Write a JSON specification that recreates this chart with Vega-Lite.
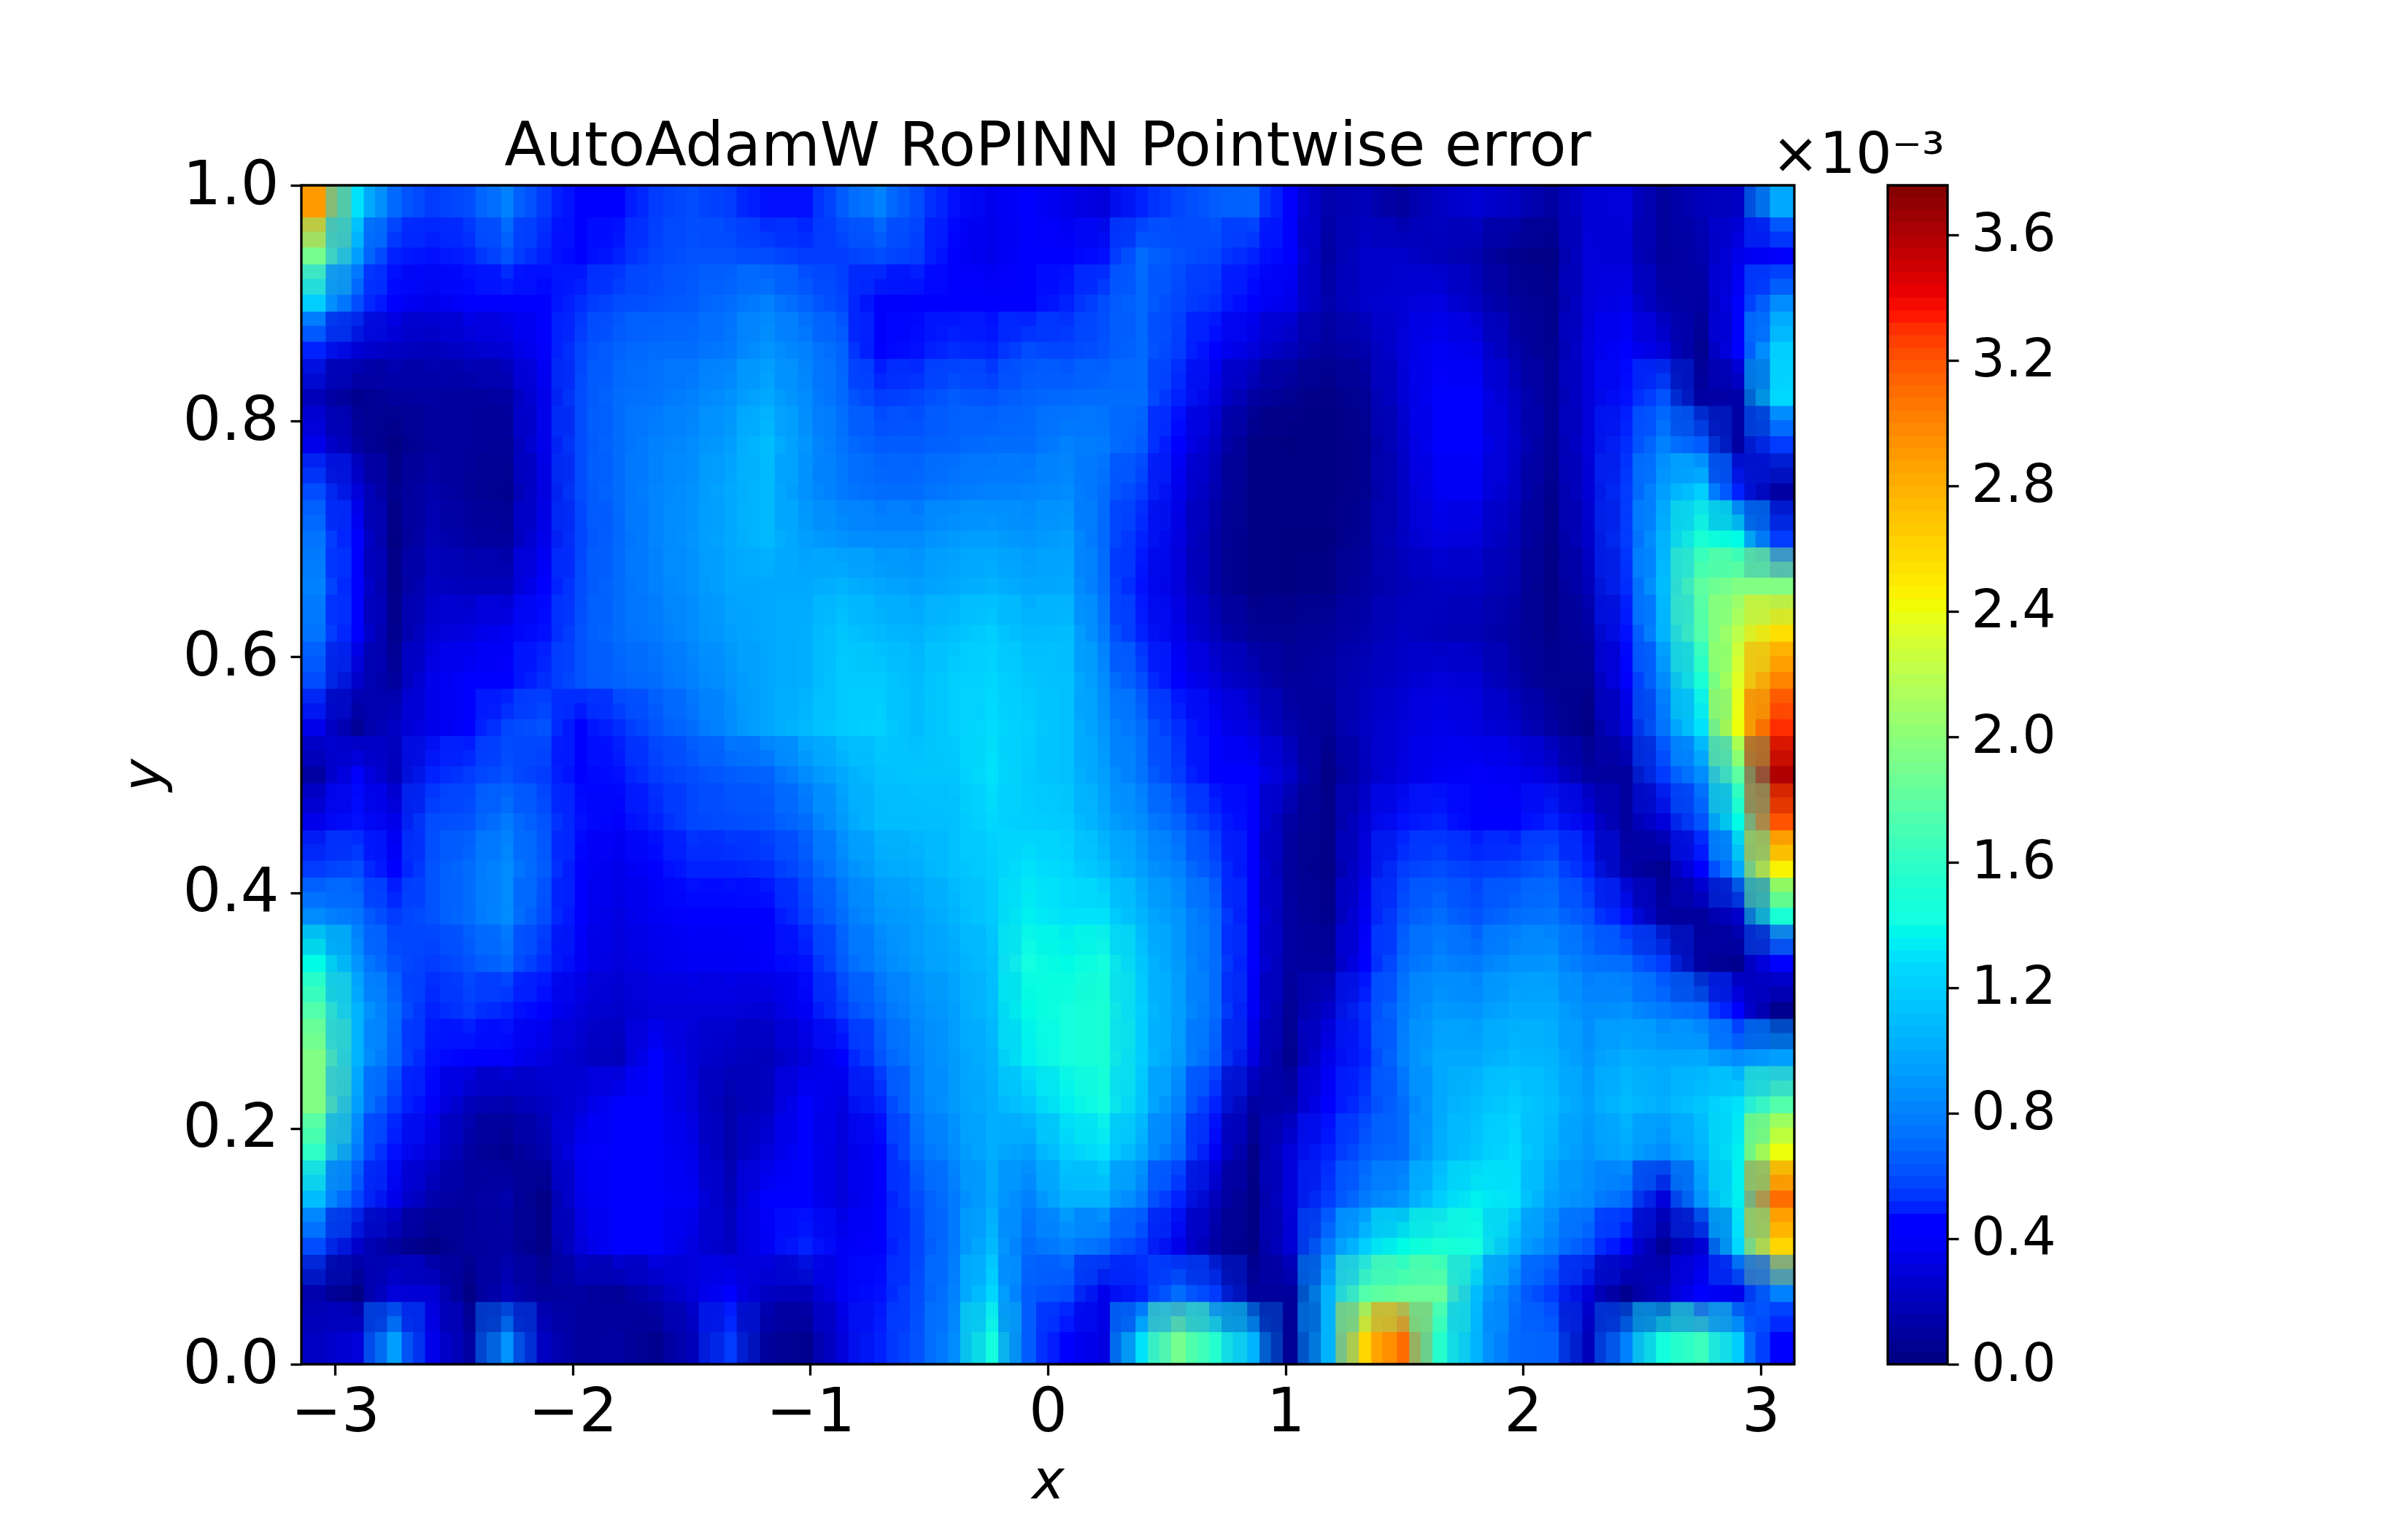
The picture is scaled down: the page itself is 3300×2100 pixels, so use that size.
{"$schema":"https://vega.github.io/schema/vega-lite/v6.json","background":"white","padding":{"left":160,"top":161,"right":20,"bottom":20},"spacing":-33,"config":{"font":"DejaVu Sans","view":{"stroke":null},"axis":{"grid":false,"domain":false,"tickColor":"black","tickWidth":3.3,"tickSize":15,"labelColor":"black","titleColor":"black","labelFont":"DejaVu Sans","titleFont":"DejaVu Sans"}},"datasets":{"grid":[
{"x":-3.06,"y":0.98,"e":2.9},{"x":-2.91,"y":0.98,"e":1.3},{"x":-2.75,"y":0.98,"e":0.7},{"x":-2.59,"y":0.98,"e":0.55},{"x":-2.43,"y":0.98,"e":0.6},{"x":-2.28,"y":0.98,"e":0.8},{"x":-2.12,"y":0.98,"e":0.55},{"x":-1.96,"y":0.98,"e":0.42},{"x":-1.81,"y":0.98,"e":0.42},{"x":-1.65,"y":0.98,"e":0.55},{"x":-1.49,"y":0.98,"e":0.6},{"x":-1.34,"y":0.98,"e":0.55},{"x":-1.18,"y":0.98,"e":0.48},{"x":-1.02,"y":0.98,"e":0.48},{"x":-0.86,"y":0.98,"e":0.65},{"x":-0.71,"y":0.98,"e":0.8},{"x":-0.55,"y":0.98,"e":0.6},{"x":-0.39,"y":0.98,"e":0.48},{"x":-0.24,"y":0.98,"e":0.36},{"x":-0.08,"y":0.98,"e":0.42},{"x":0.08,"y":0.98,"e":0.35},{"x":0.24,"y":0.98,"e":0.3},{"x":0.39,"y":0.98,"e":0.5},{"x":0.55,"y":0.98,"e":0.58},{"x":0.71,"y":0.98,"e":0.65},{"x":0.86,"y":0.98,"e":0.68},{"x":1.02,"y":0.98,"e":0.4},{"x":1.18,"y":0.98,"e":0.15},{"x":1.34,"y":0.98,"e":0.2},{"x":1.49,"y":0.98,"e":0.1},{"x":1.65,"y":0.98,"e":0.22},{"x":1.81,"y":0.98,"e":0.28},{"x":1.96,"y":0.98,"e":0.22},{"x":2.12,"y":0.98,"e":0.12},{"x":2.28,"y":0.98,"e":0.28},{"x":2.43,"y":0.98,"e":0.3},{"x":2.59,"y":0.98,"e":0.1},{"x":2.75,"y":0.98,"e":0.2},{"x":2.91,"y":0.98,"e":0.22},{"x":3.06,"y":0.98,"e":1.0},
{"x":-3.06,"y":0.94,"e":1.9},{"x":-2.91,"y":0.94,"e":0.95},{"x":-2.75,"y":0.94,"e":0.5},{"x":-2.59,"y":0.94,"e":0.48},{"x":-2.43,"y":0.94,"e":0.5},{"x":-2.28,"y":0.94,"e":0.62},{"x":-2.12,"y":0.94,"e":0.5},{"x":-1.96,"y":0.94,"e":0.42},{"x":-1.81,"y":0.94,"e":0.5},{"x":-1.65,"y":0.94,"e":0.58},{"x":-1.49,"y":0.94,"e":0.62},{"x":-1.34,"y":0.94,"e":0.62},{"x":-1.18,"y":0.94,"e":0.6},{"x":-1.02,"y":0.94,"e":0.55},{"x":-0.86,"y":0.94,"e":0.55},{"x":-0.71,"y":0.94,"e":0.6},{"x":-0.55,"y":0.94,"e":0.55},{"x":-0.39,"y":0.94,"e":0.45},{"x":-0.24,"y":0.94,"e":0.35},{"x":-0.08,"y":0.94,"e":0.42},{"x":0.08,"y":0.94,"e":0.42},{"x":0.24,"y":0.94,"e":0.48},{"x":0.39,"y":0.94,"e":0.72},{"x":0.55,"y":0.94,"e":0.62},{"x":0.71,"y":0.94,"e":0.58},{"x":0.86,"y":0.94,"e":0.5},{"x":1.02,"y":0.94,"e":0.42},{"x":1.18,"y":0.94,"e":0.12},{"x":1.34,"y":0.94,"e":0.25},{"x":1.49,"y":0.94,"e":0.25},{"x":1.65,"y":0.94,"e":0.2},{"x":1.81,"y":0.94,"e":0.15},{"x":1.96,"y":0.94,"e":0.05},{"x":2.12,"y":0.94,"e":0.03},{"x":2.28,"y":0.94,"e":0.3},{"x":2.43,"y":0.94,"e":0.28},{"x":2.59,"y":0.94,"e":0.1},{"x":2.75,"y":0.94,"e":0.15},{"x":2.91,"y":0.94,"e":0.35},{"x":3.06,"y":0.94,"e":0.4},
{"x":-3.06,"y":0.9,"e":1.2},{"x":-2.91,"y":0.9,"e":0.6},{"x":-2.75,"y":0.9,"e":0.42},{"x":-2.59,"y":0.9,"e":0.35},{"x":-2.43,"y":0.9,"e":0.42},{"x":-2.28,"y":0.9,"e":0.42},{"x":-2.12,"y":0.9,"e":0.45},{"x":-1.96,"y":0.9,"e":0.52},{"x":-1.81,"y":0.9,"e":0.6},{"x":-1.65,"y":0.9,"e":0.62},{"x":-1.49,"y":0.9,"e":0.65},{"x":-1.34,"y":0.9,"e":0.72},{"x":-1.18,"y":0.9,"e":0.8},{"x":-1.02,"y":0.9,"e":0.68},{"x":-0.86,"y":0.9,"e":0.58},{"x":-0.71,"y":0.9,"e":0.4},{"x":-0.55,"y":0.9,"e":0.42},{"x":-0.39,"y":0.9,"e":0.45},{"x":-0.24,"y":0.9,"e":0.42},{"x":-0.08,"y":0.9,"e":0.45},{"x":0.08,"y":0.9,"e":0.5},{"x":0.24,"y":0.9,"e":0.6},{"x":0.39,"y":0.9,"e":0.7},{"x":0.55,"y":0.9,"e":0.58},{"x":0.71,"y":0.9,"e":0.52},{"x":0.86,"y":0.9,"e":0.45},{"x":1.02,"y":0.9,"e":0.35},{"x":1.18,"y":0.9,"e":0.15},{"x":1.34,"y":0.9,"e":0.25},{"x":1.49,"y":0.9,"e":0.28},{"x":1.65,"y":0.9,"e":0.32},{"x":1.81,"y":0.9,"e":0.22},{"x":1.96,"y":0.9,"e":0.1},{"x":2.12,"y":0.9,"e":0.05},{"x":2.28,"y":0.9,"e":0.3},{"x":2.43,"y":0.9,"e":0.35},{"x":2.59,"y":0.9,"e":0.15},{"x":2.75,"y":0.9,"e":0.12},{"x":2.91,"y":0.9,"e":0.4},{"x":3.06,"y":0.9,"e":0.85},
{"x":-3.06,"y":0.86,"e":0.5},{"x":-2.91,"y":0.86,"e":0.28},{"x":-2.75,"y":0.86,"e":0.22},{"x":-2.59,"y":0.86,"e":0.2},{"x":-2.43,"y":0.86,"e":0.25},{"x":-2.28,"y":0.86,"e":0.28},{"x":-2.12,"y":0.86,"e":0.4},{"x":-1.96,"y":0.86,"e":0.58},{"x":-1.81,"y":0.86,"e":0.68},{"x":-1.65,"y":0.86,"e":0.72},{"x":-1.49,"y":0.86,"e":0.72},{"x":-1.34,"y":0.86,"e":0.78},{"x":-1.18,"y":0.86,"e":0.9},{"x":-1.02,"y":0.86,"e":0.8},{"x":-0.86,"y":0.86,"e":0.68},{"x":-0.71,"y":0.86,"e":0.45},{"x":-0.55,"y":0.86,"e":0.48},{"x":-0.39,"y":0.86,"e":0.52},{"x":-0.24,"y":0.86,"e":0.5},{"x":-0.08,"y":0.86,"e":0.6},{"x":0.08,"y":0.86,"e":0.58},{"x":0.24,"y":0.86,"e":0.62},{"x":0.39,"y":0.86,"e":0.7},{"x":0.55,"y":0.86,"e":0.55},{"x":0.71,"y":0.86,"e":0.45},{"x":0.86,"y":0.86,"e":0.3},{"x":1.02,"y":0.86,"e":0.2},{"x":1.18,"y":0.86,"e":0.1},{"x":1.34,"y":0.86,"e":0.15},{"x":1.49,"y":0.86,"e":0.3},{"x":1.65,"y":0.86,"e":0.38},{"x":1.81,"y":0.86,"e":0.35},{"x":1.96,"y":0.86,"e":0.15},{"x":2.12,"y":0.86,"e":0.06},{"x":2.28,"y":0.86,"e":0.32},{"x":2.43,"y":0.86,"e":0.45},{"x":2.59,"y":0.86,"e":0.3},{"x":2.75,"y":0.86,"e":0.06},{"x":2.91,"y":0.86,"e":0.42},{"x":3.06,"y":0.86,"e":1.2},
{"x":-3.06,"y":0.82,"e":0.2},{"x":-2.91,"y":0.82,"e":0.05},{"x":-2.75,"y":0.82,"e":0.1},{"x":-2.59,"y":0.82,"e":0.12},{"x":-2.43,"y":0.82,"e":0.1},{"x":-2.28,"y":0.82,"e":0.12},{"x":-2.12,"y":0.82,"e":0.35},{"x":-1.96,"y":0.82,"e":0.6},{"x":-1.81,"y":0.82,"e":0.72},{"x":-1.65,"y":0.82,"e":0.75},{"x":-1.49,"y":0.82,"e":0.8},{"x":-1.34,"y":0.82,"e":0.88},{"x":-1.18,"y":0.82,"e":1.0},{"x":-1.02,"y":0.82,"e":0.85},{"x":-0.86,"y":0.82,"e":0.7},{"x":-0.71,"y":0.82,"e":0.55},{"x":-0.55,"y":0.82,"e":0.58},{"x":-0.39,"y":0.82,"e":0.65},{"x":-0.24,"y":0.82,"e":0.62},{"x":-0.08,"y":0.82,"e":0.68},{"x":0.08,"y":0.82,"e":0.7},{"x":0.24,"y":0.82,"e":0.72},{"x":0.39,"y":0.82,"e":0.72},{"x":0.55,"y":0.82,"e":0.5},{"x":0.71,"y":0.82,"e":0.32},{"x":0.86,"y":0.82,"e":0.12},{"x":1.02,"y":0.82,"e":0.06},{"x":1.18,"y":0.82,"e":0.02},{"x":1.34,"y":0.82,"e":0.08},{"x":1.49,"y":0.82,"e":0.28},{"x":1.65,"y":0.82,"e":0.42},{"x":1.81,"y":0.82,"e":0.42},{"x":1.96,"y":0.82,"e":0.22},{"x":2.12,"y":0.82,"e":0.08},{"x":2.28,"y":0.82,"e":0.3},{"x":2.43,"y":0.82,"e":0.48},{"x":2.59,"y":0.82,"e":0.62},{"x":2.75,"y":0.82,"e":0.12},{"x":2.91,"y":0.82,"e":0.14},{"x":3.06,"y":0.82,"e":1.25},
{"x":-3.06,"y":0.78,"e":0.35},{"x":-2.91,"y":0.78,"e":0.12},{"x":-2.75,"y":0.78,"e":0.02},{"x":-2.59,"y":0.78,"e":0.1},{"x":-2.43,"y":0.78,"e":0.1},{"x":-2.28,"y":0.78,"e":0.08},{"x":-2.12,"y":0.78,"e":0.35},{"x":-1.96,"y":0.78,"e":0.6},{"x":-1.81,"y":0.78,"e":0.72},{"x":-1.65,"y":0.78,"e":0.8},{"x":-1.49,"y":0.78,"e":0.85},{"x":-1.34,"y":0.78,"e":0.95},{"x":-1.18,"y":0.78,"e":1.1},{"x":-1.02,"y":0.78,"e":0.9},{"x":-0.86,"y":0.78,"e":0.75},{"x":-0.71,"y":0.78,"e":0.65},{"x":-0.55,"y":0.78,"e":0.65},{"x":-0.39,"y":0.78,"e":0.68},{"x":-0.24,"y":0.78,"e":0.72},{"x":-0.08,"y":0.78,"e":0.72},{"x":0.08,"y":0.78,"e":0.8},{"x":0.24,"y":0.78,"e":0.78},{"x":0.39,"y":0.78,"e":0.65},{"x":0.55,"y":0.78,"e":0.42},{"x":0.71,"y":0.78,"e":0.22},{"x":0.86,"y":0.78,"e":0.02},{"x":1.02,"y":0.78,"e":0.01},{"x":1.18,"y":0.78,"e":0.02},{"x":1.34,"y":0.78,"e":0.05},{"x":1.49,"y":0.78,"e":0.25},{"x":1.65,"y":0.78,"e":0.42},{"x":1.81,"y":0.78,"e":0.42},{"x":1.96,"y":0.78,"e":0.25},{"x":2.12,"y":0.78,"e":0.08},{"x":2.28,"y":0.78,"e":0.3},{"x":2.43,"y":0.78,"e":0.52},{"x":2.59,"y":0.78,"e":0.8},{"x":2.75,"y":0.78,"e":0.65},{"x":2.91,"y":0.78,"e":0.12},{"x":3.06,"y":0.78,"e":0.55},
{"x":-3.06,"y":0.74,"e":0.6},{"x":-2.91,"y":0.74,"e":0.3},{"x":-2.75,"y":0.74,"e":0.05},{"x":-2.59,"y":0.74,"e":0.15},{"x":-2.43,"y":0.74,"e":0.08},{"x":-2.28,"y":0.74,"e":0.05},{"x":-2.12,"y":0.74,"e":0.32},{"x":-1.96,"y":0.74,"e":0.6},{"x":-1.81,"y":0.74,"e":0.72},{"x":-1.65,"y":0.74,"e":0.82},{"x":-1.49,"y":0.74,"e":0.88},{"x":-1.34,"y":0.74,"e":1.0},{"x":-1.18,"y":0.74,"e":1.08},{"x":-1.02,"y":0.74,"e":0.88},{"x":-0.86,"y":0.74,"e":0.78},{"x":-0.71,"y":0.74,"e":0.72},{"x":-0.55,"y":0.74,"e":0.72},{"x":-0.39,"y":0.74,"e":0.78},{"x":-0.24,"y":0.74,"e":0.8},{"x":-0.08,"y":0.74,"e":0.82},{"x":0.08,"y":0.74,"e":0.85},{"x":0.24,"y":0.74,"e":0.72},{"x":0.39,"y":0.74,"e":0.55},{"x":0.55,"y":0.74,"e":0.35},{"x":0.71,"y":0.74,"e":0.16},{"x":0.86,"y":0.74,"e":0.02},{"x":1.02,"y":0.74,"e":0.02},{"x":1.18,"y":0.74,"e":0.02},{"x":1.34,"y":0.74,"e":0.06},{"x":1.49,"y":0.74,"e":0.22},{"x":1.65,"y":0.74,"e":0.38},{"x":1.81,"y":0.74,"e":0.38},{"x":1.96,"y":0.74,"e":0.22},{"x":2.12,"y":0.74,"e":0.05},{"x":2.28,"y":0.74,"e":0.28},{"x":2.43,"y":0.74,"e":0.55},{"x":2.59,"y":0.74,"e":0.95},{"x":2.75,"y":0.74,"e":1.2},{"x":2.91,"y":0.74,"e":0.5},{"x":3.06,"y":0.74,"e":0.12},
{"x":-3.06,"y":0.7,"e":0.75},{"x":-2.91,"y":0.7,"e":0.42},{"x":-2.75,"y":0.7,"e":0.02},{"x":-2.59,"y":0.7,"e":0.18},{"x":-2.43,"y":0.7,"e":0.12},{"x":-2.28,"y":0.7,"e":0.1},{"x":-2.12,"y":0.7,"e":0.35},{"x":-1.96,"y":0.7,"e":0.58},{"x":-1.81,"y":0.7,"e":0.7},{"x":-1.65,"y":0.7,"e":0.82},{"x":-1.49,"y":0.7,"e":0.9},{"x":-1.34,"y":0.7,"e":1.0},{"x":-1.18,"y":0.7,"e":1.08},{"x":-1.02,"y":0.7,"e":0.95},{"x":-0.86,"y":0.7,"e":0.88},{"x":-0.71,"y":0.7,"e":0.85},{"x":-0.55,"y":0.7,"e":0.85},{"x":-0.39,"y":0.7,"e":0.92},{"x":-0.24,"y":0.7,"e":0.95},{"x":-0.08,"y":0.7,"e":0.9},{"x":0.08,"y":0.7,"e":0.95},{"x":0.24,"y":0.7,"e":0.7},{"x":0.39,"y":0.7,"e":0.5},{"x":0.55,"y":0.7,"e":0.32},{"x":0.71,"y":0.7,"e":0.12},{"x":0.86,"y":0.7,"e":0.02},{"x":1.02,"y":0.7,"e":0.01},{"x":1.18,"y":0.7,"e":0.01},{"x":1.34,"y":0.7,"e":0.08},{"x":1.49,"y":0.7,"e":0.22},{"x":1.65,"y":0.7,"e":0.32},{"x":1.81,"y":0.7,"e":0.3},{"x":1.96,"y":0.7,"e":0.18},{"x":2.12,"y":0.7,"e":0.04},{"x":2.28,"y":0.7,"e":0.25},{"x":2.43,"y":0.7,"e":0.55},{"x":2.59,"y":0.7,"e":1.05},{"x":2.75,"y":0.7,"e":1.5},{"x":2.91,"y":0.7,"e":1.4},{"x":3.06,"y":0.7,"e":0.55},
{"x":-3.06,"y":0.66,"e":0.8},{"x":-2.91,"y":0.66,"e":0.45},{"x":-2.75,"y":0.66,"e":0.04},{"x":-2.59,"y":0.66,"e":0.22},{"x":-2.43,"y":0.66,"e":0.2},{"x":-2.28,"y":0.66,"e":0.2},{"x":-2.12,"y":0.66,"e":0.42},{"x":-1.96,"y":0.66,"e":0.6},{"x":-1.81,"y":0.66,"e":0.72},{"x":-1.65,"y":0.66,"e":0.8},{"x":-1.49,"y":0.66,"e":0.88},{"x":-1.34,"y":0.66,"e":0.98},{"x":-1.18,"y":0.66,"e":1.0},{"x":-1.02,"y":0.66,"e":1.0},{"x":-0.86,"y":0.66,"e":1.05},{"x":-0.71,"y":0.66,"e":0.98},{"x":-0.55,"y":0.66,"e":0.95},{"x":-0.39,"y":0.66,"e":1.0},{"x":-0.24,"y":0.66,"e":1.05},{"x":-0.08,"y":0.66,"e":0.98},{"x":0.08,"y":0.66,"e":1.0},{"x":0.24,"y":0.66,"e":0.72},{"x":0.39,"y":0.66,"e":0.48},{"x":0.55,"y":0.66,"e":0.3},{"x":0.71,"y":0.66,"e":0.12},{"x":0.86,"y":0.66,"e":0.02},{"x":1.02,"y":0.66,"e":0.01},{"x":1.18,"y":0.66,"e":0.02},{"x":1.34,"y":0.66,"e":0.12},{"x":1.49,"y":0.66,"e":0.18},{"x":1.65,"y":0.66,"e":0.22},{"x":1.81,"y":0.66,"e":0.22},{"x":1.96,"y":0.66,"e":0.15},{"x":2.12,"y":0.66,"e":0.02},{"x":2.28,"y":0.66,"e":0.2},{"x":2.43,"y":0.66,"e":0.52},{"x":2.59,"y":0.66,"e":1.1},{"x":2.75,"y":0.66,"e":1.8},{"x":2.91,"y":0.66,"e":1.95},{"x":3.06,"y":0.66,"e":1.95},
{"x":-3.06,"y":0.62,"e":0.75},{"x":-2.91,"y":0.62,"e":0.42},{"x":-2.75,"y":0.62,"e":0.05},{"x":-2.59,"y":0.62,"e":0.28},{"x":-2.43,"y":0.62,"e":0.32},{"x":-2.28,"y":0.62,"e":0.38},{"x":-2.12,"y":0.62,"e":0.48},{"x":-1.96,"y":0.62,"e":0.62},{"x":-1.81,"y":0.62,"e":0.72},{"x":-1.65,"y":0.62,"e":0.78},{"x":-1.49,"y":0.62,"e":0.85},{"x":-1.34,"y":0.62,"e":0.95},{"x":-1.18,"y":0.62,"e":1.0},{"x":-1.02,"y":0.62,"e":1.02},{"x":-0.86,"y":0.62,"e":1.15},{"x":-0.71,"y":0.62,"e":1.08},{"x":-0.55,"y":0.62,"e":1.05},{"x":-0.39,"y":0.62,"e":1.12},{"x":-0.24,"y":0.62,"e":1.2},{"x":-0.08,"y":0.62,"e":1.08},{"x":0.08,"y":0.62,"e":1.1},{"x":0.24,"y":0.62,"e":0.78},{"x":0.39,"y":0.62,"e":0.5},{"x":0.55,"y":0.62,"e":0.35},{"x":0.71,"y":0.62,"e":0.2},{"x":0.86,"y":0.62,"e":0.08},{"x":1.02,"y":0.62,"e":0.06},{"x":1.18,"y":0.62,"e":0.1},{"x":1.34,"y":0.62,"e":0.15},{"x":1.49,"y":0.62,"e":0.22},{"x":1.65,"y":0.62,"e":0.2},{"x":1.81,"y":0.62,"e":0.18},{"x":1.96,"y":0.62,"e":0.12},{"x":2.12,"y":0.62,"e":0.04},{"x":2.28,"y":0.62,"e":0.12},{"x":2.43,"y":0.62,"e":0.48},{"x":2.59,"y":0.62,"e":1.05},{"x":2.75,"y":0.62,"e":1.75},{"x":2.91,"y":0.62,"e":2.2},{"x":3.06,"y":0.62,"e":2.55},
{"x":-3.06,"y":0.58,"e":0.6},{"x":-2.91,"y":0.58,"e":0.25},{"x":-2.75,"y":0.58,"e":0.1},{"x":-2.59,"y":0.58,"e":0.35},{"x":-2.43,"y":0.58,"e":0.42},{"x":-2.28,"y":0.58,"e":0.45},{"x":-2.12,"y":0.58,"e":0.52},{"x":-1.96,"y":0.58,"e":0.62},{"x":-1.81,"y":0.58,"e":0.68},{"x":-1.65,"y":0.58,"e":0.72},{"x":-1.49,"y":0.58,"e":0.8},{"x":-1.34,"y":0.58,"e":0.9},{"x":-1.18,"y":0.58,"e":0.98},{"x":-1.02,"y":0.58,"e":1.02},{"x":-0.86,"y":0.58,"e":1.18},{"x":-0.71,"y":0.58,"e":1.18},{"x":-0.55,"y":0.58,"e":1.1},{"x":-0.39,"y":0.58,"e":1.2},{"x":-0.24,"y":0.58,"e":1.25},{"x":-0.08,"y":0.58,"e":1.15},{"x":0.08,"y":0.58,"e":1.12},{"x":0.24,"y":0.58,"e":0.85},{"x":0.39,"y":0.58,"e":0.6},{"x":0.55,"y":0.58,"e":0.42},{"x":0.71,"y":0.58,"e":0.3},{"x":0.86,"y":0.58,"e":0.2},{"x":1.02,"y":0.58,"e":0.1},{"x":1.18,"y":0.58,"e":0.12},{"x":1.34,"y":0.58,"e":0.2},{"x":1.49,"y":0.58,"e":0.25},{"x":1.65,"y":0.58,"e":0.3},{"x":1.81,"y":0.58,"e":0.28},{"x":1.96,"y":0.58,"e":0.15},{"x":2.12,"y":0.58,"e":0.06},{"x":2.28,"y":0.58,"e":0.06},{"x":2.43,"y":0.58,"e":0.4},{"x":2.59,"y":0.58,"e":0.85},{"x":2.75,"y":0.58,"e":1.5},{"x":2.91,"y":0.58,"e":2.35},{"x":3.06,"y":0.58,"e":3.0},
{"x":-3.06,"y":0.54,"e":0.35},{"x":-2.91,"y":0.54,"e":0.08},{"x":-2.75,"y":0.54,"e":0.22},{"x":-2.59,"y":0.54,"e":0.35},{"x":-2.43,"y":0.54,"e":0.42},{"x":-2.28,"y":0.54,"e":0.58},{"x":-2.12,"y":0.54,"e":0.62},{"x":-1.96,"y":0.54,"e":0.45},{"x":-1.81,"y":0.54,"e":0.52},{"x":-1.65,"y":0.54,"e":0.62},{"x":-1.49,"y":0.54,"e":0.72},{"x":-1.34,"y":0.54,"e":0.85},{"x":-1.18,"y":0.54,"e":0.98},{"x":-1.02,"y":0.54,"e":1.08},{"x":-0.86,"y":0.54,"e":1.18},{"x":-0.71,"y":0.54,"e":1.22},{"x":-0.55,"y":0.54,"e":1.1},{"x":-0.39,"y":0.54,"e":1.2},{"x":-0.24,"y":0.54,"e":1.28},{"x":-0.08,"y":0.54,"e":1.2},{"x":0.08,"y":0.54,"e":1.12},{"x":0.24,"y":0.54,"e":0.9},{"x":0.39,"y":0.54,"e":0.72},{"x":0.55,"y":0.54,"e":0.52},{"x":0.71,"y":0.54,"e":0.4},{"x":0.86,"y":0.54,"e":0.3},{"x":1.02,"y":0.54,"e":0.15},{"x":1.18,"y":0.54,"e":0.08},{"x":1.34,"y":0.54,"e":0.22},{"x":1.49,"y":0.54,"e":0.3},{"x":1.65,"y":0.54,"e":0.35},{"x":1.81,"y":0.54,"e":0.32},{"x":1.96,"y":0.54,"e":0.25},{"x":2.12,"y":0.54,"e":0.12},{"x":2.28,"y":0.54,"e":0.02},{"x":2.43,"y":0.54,"e":0.3},{"x":2.59,"y":0.54,"e":0.75},{"x":2.75,"y":0.54,"e":1.3},{"x":2.91,"y":0.54,"e":2.4},{"x":3.06,"y":0.54,"e":3.3},
{"x":-3.06,"y":0.5,"e":0.12},{"x":-2.91,"y":0.5,"e":0.4},{"x":-2.75,"y":0.5,"e":0.2},{"x":-2.59,"y":0.5,"e":0.5},{"x":-2.43,"y":0.5,"e":0.55},{"x":-2.28,"y":0.5,"e":0.62},{"x":-2.12,"y":0.5,"e":0.55},{"x":-1.96,"y":0.5,"e":0.45},{"x":-1.81,"y":0.5,"e":0.48},{"x":-1.65,"y":0.5,"e":0.55},{"x":-1.49,"y":0.5,"e":0.6},{"x":-1.34,"y":0.5,"e":0.65},{"x":-1.18,"y":0.5,"e":0.68},{"x":-1.02,"y":0.5,"e":0.85},{"x":-0.86,"y":0.5,"e":1.0},{"x":-0.71,"y":0.5,"e":1.12},{"x":-0.55,"y":0.5,"e":1.15},{"x":-0.39,"y":0.5,"e":1.15},{"x":-0.24,"y":0.5,"e":1.3},{"x":-0.08,"y":0.5,"e":1.18},{"x":0.08,"y":0.5,"e":1.12},{"x":0.24,"y":0.5,"e":0.95},{"x":0.39,"y":0.5,"e":0.75},{"x":0.55,"y":0.5,"e":0.55},{"x":0.71,"y":0.5,"e":0.42},{"x":0.86,"y":0.5,"e":0.42},{"x":1.02,"y":0.5,"e":0.25},{"x":1.18,"y":0.5,"e":0.03},{"x":1.34,"y":0.5,"e":0.2},{"x":1.49,"y":0.5,"e":0.32},{"x":1.65,"y":0.5,"e":0.38},{"x":1.81,"y":0.5,"e":0.4},{"x":1.96,"y":0.5,"e":0.38},{"x":2.12,"y":0.5,"e":0.3},{"x":2.28,"y":0.5,"e":0.12},{"x":2.43,"y":0.5,"e":0.1},{"x":2.59,"y":0.5,"e":0.55},{"x":2.75,"y":0.5,"e":0.85},{"x":2.91,"y":0.5,"e":1.8},{"x":3.06,"y":0.5,"e":3.6},
{"x":-3.06,"y":0.46,"e":0.35},{"x":-2.91,"y":0.46,"e":0.48},{"x":-2.75,"y":0.46,"e":0.35},{"x":-2.59,"y":0.46,"e":0.6},{"x":-2.43,"y":0.46,"e":0.62},{"x":-2.28,"y":0.46,"e":0.78},{"x":-2.12,"y":0.46,"e":0.62},{"x":-1.96,"y":0.46,"e":0.48},{"x":-1.81,"y":0.46,"e":0.4},{"x":-1.65,"y":0.46,"e":0.5},{"x":-1.49,"y":0.46,"e":0.58},{"x":-1.34,"y":0.46,"e":0.6},{"x":-1.18,"y":0.46,"e":0.62},{"x":-1.02,"y":0.46,"e":0.72},{"x":-0.86,"y":0.46,"e":0.92},{"x":-0.71,"y":0.46,"e":1.1},{"x":-0.55,"y":0.46,"e":1.1},{"x":-0.39,"y":0.46,"e":1.12},{"x":-0.24,"y":0.46,"e":1.25},{"x":-0.08,"y":0.46,"e":1.2},{"x":0.08,"y":0.46,"e":1.18},{"x":0.24,"y":0.46,"e":1.0},{"x":0.39,"y":0.46,"e":0.85},{"x":0.55,"y":0.46,"e":0.68},{"x":0.71,"y":0.46,"e":0.52},{"x":0.86,"y":0.46,"e":0.4},{"x":1.02,"y":0.46,"e":0.12},{"x":1.18,"y":0.46,"e":0.04},{"x":1.34,"y":0.46,"e":0.28},{"x":1.49,"y":0.46,"e":0.48},{"x":1.65,"y":0.46,"e":0.5},{"x":1.81,"y":0.46,"e":0.45},{"x":1.96,"y":0.46,"e":0.42},{"x":2.12,"y":0.46,"e":0.5},{"x":2.28,"y":0.46,"e":0.35},{"x":2.43,"y":0.46,"e":0.1},{"x":2.59,"y":0.46,"e":0.3},{"x":2.75,"y":0.46,"e":0.62},{"x":2.91,"y":0.46,"e":1.4},{"x":3.06,"y":0.46,"e":3.2},
{"x":-3.06,"y":0.42,"e":0.55},{"x":-2.91,"y":0.42,"e":0.6},{"x":-2.75,"y":0.42,"e":0.42},{"x":-2.59,"y":0.42,"e":0.62},{"x":-2.43,"y":0.42,"e":0.72},{"x":-2.28,"y":0.42,"e":0.85},{"x":-2.12,"y":0.42,"e":0.65},{"x":-1.96,"y":0.42,"e":0.45},{"x":-1.81,"y":0.42,"e":0.35},{"x":-1.65,"y":0.42,"e":0.42},{"x":-1.49,"y":0.42,"e":0.5},{"x":-1.34,"y":0.42,"e":0.5},{"x":-1.18,"y":0.42,"e":0.52},{"x":-1.02,"y":0.42,"e":0.62},{"x":-0.86,"y":0.42,"e":0.82},{"x":-0.71,"y":0.42,"e":0.98},{"x":-0.55,"y":0.42,"e":1.02},{"x":-0.39,"y":0.42,"e":1.12},{"x":-0.24,"y":0.42,"e":1.2},{"x":-0.08,"y":0.42,"e":1.3},{"x":0.08,"y":0.42,"e":1.25},{"x":0.24,"y":0.42,"e":1.12},{"x":0.39,"y":0.42,"e":0.95},{"x":0.55,"y":0.42,"e":0.8},{"x":0.71,"y":0.42,"e":0.6},{"x":0.86,"y":0.42,"e":0.4},{"x":1.02,"y":0.42,"e":0.1},{"x":1.18,"y":0.42,"e":0.03},{"x":1.34,"y":0.42,"e":0.32},{"x":1.49,"y":0.42,"e":0.55},{"x":1.65,"y":0.42,"e":0.6},{"x":1.81,"y":0.42,"e":0.55},{"x":1.96,"y":0.42,"e":0.58},{"x":2.12,"y":0.42,"e":0.65},{"x":2.28,"y":0.42,"e":0.5},{"x":2.43,"y":0.42,"e":0.15},{"x":2.59,"y":0.42,"e":0.06},{"x":2.75,"y":0.42,"e":0.45},{"x":2.91,"y":0.42,"e":1.0},{"x":3.06,"y":0.42,"e":2.45},
{"x":-3.06,"y":0.38,"e":0.85},{"x":-2.91,"y":0.38,"e":0.75},{"x":-2.75,"y":0.38,"e":0.55},{"x":-2.59,"y":0.38,"e":0.62},{"x":-2.43,"y":0.38,"e":0.72},{"x":-2.28,"y":0.38,"e":0.85},{"x":-2.12,"y":0.38,"e":0.6},{"x":-1.96,"y":0.38,"e":0.42},{"x":-1.81,"y":0.38,"e":0.32},{"x":-1.65,"y":0.38,"e":0.38},{"x":-1.49,"y":0.38,"e":0.42},{"x":-1.34,"y":0.38,"e":0.42},{"x":-1.18,"y":0.38,"e":0.42},{"x":-1.02,"y":0.38,"e":0.55},{"x":-0.86,"y":0.38,"e":0.72},{"x":-0.71,"y":0.38,"e":0.9},{"x":-0.55,"y":0.38,"e":0.95},{"x":-0.39,"y":0.38,"e":1.05},{"x":-0.24,"y":0.38,"e":1.18},{"x":-0.08,"y":0.38,"e":1.35},{"x":0.08,"y":0.38,"e":1.3},{"x":0.24,"y":0.38,"e":1.3},{"x":0.39,"y":0.38,"e":1.05},{"x":0.55,"y":0.38,"e":0.9},{"x":0.71,"y":0.38,"e":0.7},{"x":0.86,"y":0.38,"e":0.4},{"x":1.02,"y":0.38,"e":0.12},{"x":1.18,"y":0.38,"e":0.05},{"x":1.34,"y":0.38,"e":0.38},{"x":1.49,"y":0.38,"e":0.62},{"x":1.65,"y":0.38,"e":0.72},{"x":1.81,"y":0.38,"e":0.62},{"x":1.96,"y":0.38,"e":0.72},{"x":2.12,"y":0.38,"e":0.75},{"x":2.28,"y":0.38,"e":0.62},{"x":2.43,"y":0.38,"e":0.48},{"x":2.59,"y":0.38,"e":0.12},{"x":2.75,"y":0.38,"e":0.1},{"x":2.91,"y":0.38,"e":0.25},{"x":3.06,"y":0.38,"e":1.5},
{"x":-3.06,"y":0.34,"e":1.4},{"x":-2.91,"y":0.34,"e":0.9},{"x":-2.75,"y":0.34,"e":0.62},{"x":-2.59,"y":0.34,"e":0.55},{"x":-2.43,"y":0.34,"e":0.62},{"x":-2.28,"y":0.34,"e":0.7},{"x":-2.12,"y":0.34,"e":0.52},{"x":-1.96,"y":0.34,"e":0.38},{"x":-1.81,"y":0.34,"e":0.3},{"x":-1.65,"y":0.34,"e":0.35},{"x":-1.49,"y":0.34,"e":0.38},{"x":-1.34,"y":0.34,"e":0.38},{"x":-1.18,"y":0.34,"e":0.4},{"x":-1.02,"y":0.34,"e":0.48},{"x":-0.86,"y":0.34,"e":0.65},{"x":-0.71,"y":0.34,"e":0.82},{"x":-0.55,"y":0.34,"e":0.92},{"x":-0.39,"y":0.34,"e":1.0},{"x":-0.24,"y":0.34,"e":1.12},{"x":-0.08,"y":0.34,"e":1.42},{"x":0.08,"y":0.34,"e":1.4},{"x":0.24,"y":0.34,"e":1.45},{"x":0.39,"y":0.34,"e":1.15},{"x":0.55,"y":0.34,"e":0.92},{"x":0.71,"y":0.34,"e":0.72},{"x":0.86,"y":0.34,"e":0.4},{"x":1.02,"y":0.34,"e":0.12},{"x":1.18,"y":0.34,"e":0.1},{"x":1.34,"y":0.34,"e":0.42},{"x":1.49,"y":0.34,"e":0.7},{"x":1.65,"y":0.34,"e":0.82},{"x":1.81,"y":0.34,"e":0.78},{"x":1.96,"y":0.34,"e":0.88},{"x":2.12,"y":0.34,"e":0.9},{"x":2.28,"y":0.34,"e":0.75},{"x":2.43,"y":0.34,"e":0.72},{"x":2.59,"y":0.34,"e":0.55},{"x":2.75,"y":0.34,"e":0.12},{"x":2.91,"y":0.34,"e":0.05},{"x":3.06,"y":0.34,"e":0.45},
{"x":-3.06,"y":0.3,"e":1.75},{"x":-2.91,"y":0.3,"e":1.05},{"x":-2.75,"y":0.3,"e":0.72},{"x":-2.59,"y":0.3,"e":0.5},{"x":-2.43,"y":0.3,"e":0.55},{"x":-2.28,"y":0.3,"e":0.5},{"x":-2.12,"y":0.3,"e":0.42},{"x":-1.96,"y":0.3,"e":0.3},{"x":-1.81,"y":0.3,"e":0.25},{"x":-1.65,"y":0.3,"e":0.3},{"x":-1.49,"y":0.3,"e":0.3},{"x":-1.34,"y":0.3,"e":0.3},{"x":-1.18,"y":0.3,"e":0.28},{"x":-1.02,"y":0.3,"e":0.38},{"x":-0.86,"y":0.3,"e":0.55},{"x":-0.71,"y":0.3,"e":0.7},{"x":-0.55,"y":0.3,"e":0.85},{"x":-0.39,"y":0.3,"e":0.95},{"x":-0.24,"y":0.3,"e":1.1},{"x":-0.08,"y":0.3,"e":1.4},{"x":0.08,"y":0.3,"e":1.45},{"x":0.24,"y":0.3,"e":1.5},{"x":0.39,"y":0.3,"e":1.2},{"x":0.55,"y":0.3,"e":0.95},{"x":0.71,"y":0.3,"e":0.72},{"x":0.86,"y":0.3,"e":0.38},{"x":1.02,"y":0.3,"e":0.08},{"x":1.18,"y":0.3,"e":0.25},{"x":1.34,"y":0.3,"e":0.52},{"x":1.49,"y":0.3,"e":0.78},{"x":1.65,"y":0.3,"e":0.92},{"x":1.81,"y":0.3,"e":0.9},{"x":1.96,"y":0.3,"e":1.0},{"x":2.12,"y":0.3,"e":1.0},{"x":2.28,"y":0.3,"e":0.85},{"x":2.43,"y":0.3,"e":0.88},{"x":2.59,"y":0.3,"e":0.78},{"x":2.75,"y":0.3,"e":0.7},{"x":2.91,"y":0.3,"e":0.42},{"x":3.06,"y":0.3,"e":0.05},
{"x":-3.06,"y":0.26,"e":1.95},{"x":-2.91,"y":0.26,"e":1.05},{"x":-2.75,"y":0.26,"e":0.68},{"x":-2.59,"y":0.26,"e":0.48},{"x":-2.43,"y":0.26,"e":0.42},{"x":-2.28,"y":0.26,"e":0.4},{"x":-2.12,"y":0.26,"e":0.32},{"x":-1.96,"y":0.26,"e":0.25},{"x":-1.81,"y":0.26,"e":0.2},{"x":-1.65,"y":0.26,"e":0.42},{"x":-1.49,"y":0.26,"e":0.28},{"x":-1.34,"y":0.26,"e":0.22},{"x":-1.18,"y":0.26,"e":0.2},{"x":-1.02,"y":0.26,"e":0.3},{"x":-0.86,"y":0.26,"e":0.42},{"x":-0.71,"y":0.26,"e":0.62},{"x":-0.55,"y":0.26,"e":0.8},{"x":-0.39,"y":0.26,"e":0.92},{"x":-0.24,"y":0.26,"e":1.05},{"x":-0.08,"y":0.26,"e":1.35},{"x":0.08,"y":0.26,"e":1.45},{"x":0.24,"y":0.26,"e":1.5},{"x":0.39,"y":0.26,"e":1.2},{"x":0.55,"y":0.26,"e":0.92},{"x":0.71,"y":0.26,"e":0.65},{"x":0.86,"y":0.26,"e":0.32},{"x":1.02,"y":0.26,"e":0.05},{"x":1.18,"y":0.26,"e":0.35},{"x":1.34,"y":0.26,"e":0.5},{"x":1.49,"y":0.26,"e":0.8},{"x":1.65,"y":0.26,"e":1.0},{"x":1.81,"y":0.26,"e":1.0},{"x":1.96,"y":0.26,"e":1.08},{"x":2.12,"y":0.26,"e":1.05},{"x":2.28,"y":0.26,"e":0.9},{"x":2.43,"y":0.26,"e":1.02},{"x":2.59,"y":0.26,"e":0.98},{"x":2.75,"y":0.26,"e":1.0},{"x":2.91,"y":0.26,"e":0.85},{"x":3.06,"y":0.26,"e":0.95},
{"x":-3.06,"y":0.22,"e":1.95},{"x":-2.91,"y":0.22,"e":0.95},{"x":-2.75,"y":0.22,"e":0.55},{"x":-2.59,"y":0.22,"e":0.4},{"x":-2.43,"y":0.22,"e":0.2},{"x":-2.28,"y":0.22,"e":0.15},{"x":-2.12,"y":0.22,"e":0.22},{"x":-1.96,"y":0.22,"e":0.3},{"x":-1.81,"y":0.22,"e":0.42},{"x":-1.65,"y":0.22,"e":0.45},{"x":-1.49,"y":0.22,"e":0.3},{"x":-1.34,"y":0.22,"e":0.15},{"x":-1.18,"y":0.22,"e":0.22},{"x":-1.02,"y":0.22,"e":0.42},{"x":-0.86,"y":0.22,"e":0.32},{"x":-0.71,"y":0.22,"e":0.5},{"x":-0.55,"y":0.22,"e":0.78},{"x":-0.39,"y":0.22,"e":0.92},{"x":-0.24,"y":0.22,"e":1.02},{"x":-0.08,"y":0.22,"e":1.15},{"x":0.08,"y":0.22,"e":1.35},{"x":0.24,"y":0.22,"e":1.45},{"x":0.39,"y":0.22,"e":1.15},{"x":0.55,"y":0.22,"e":0.8},{"x":0.71,"y":0.22,"e":0.5},{"x":0.86,"y":0.22,"e":0.12},{"x":1.02,"y":0.22,"e":0.15},{"x":1.18,"y":0.22,"e":0.42},{"x":1.34,"y":0.22,"e":0.55},{"x":1.49,"y":0.22,"e":0.72},{"x":1.65,"y":0.22,"e":1.0},{"x":1.81,"y":0.22,"e":1.1},{"x":1.96,"y":0.22,"e":1.2},{"x":2.12,"y":0.22,"e":1.1},{"x":2.28,"y":0.22,"e":0.95},{"x":2.43,"y":0.22,"e":1.1},{"x":2.59,"y":0.22,"e":1.02},{"x":2.75,"y":0.22,"e":1.15},{"x":2.91,"y":0.22,"e":1.3},{"x":3.06,"y":0.22,"e":1.75},
{"x":-3.06,"y":0.18,"e":1.6},{"x":-2.91,"y":0.18,"e":0.78},{"x":-2.75,"y":0.18,"e":0.48},{"x":-2.59,"y":0.18,"e":0.3},{"x":-2.43,"y":0.18,"e":0.12},{"x":-2.28,"y":0.18,"e":0.05},{"x":-2.12,"y":0.18,"e":0.15},{"x":-1.96,"y":0.18,"e":0.38},{"x":-1.81,"y":0.18,"e":0.45},{"x":-1.65,"y":0.18,"e":0.45},{"x":-1.49,"y":0.18,"e":0.35},{"x":-1.34,"y":0.18,"e":0.15},{"x":-1.18,"y":0.18,"e":0.3},{"x":-1.02,"y":0.18,"e":0.45},{"x":-0.86,"y":0.18,"e":0.3},{"x":-0.71,"y":0.18,"e":0.45},{"x":-0.55,"y":0.18,"e":0.7},{"x":-0.39,"y":0.18,"e":0.85},{"x":-0.24,"y":0.18,"e":1.02},{"x":-0.08,"y":0.18,"e":0.95},{"x":0.08,"y":0.18,"e":1.2},{"x":0.24,"y":0.18,"e":1.3},{"x":0.39,"y":0.18,"e":1.0},{"x":0.55,"y":0.18,"e":0.7},{"x":0.71,"y":0.18,"e":0.38},{"x":0.86,"y":0.18,"e":0.04},{"x":1.02,"y":0.18,"e":0.3},{"x":1.18,"y":0.18,"e":0.5},{"x":1.34,"y":0.18,"e":0.65},{"x":1.49,"y":0.18,"e":0.72},{"x":1.65,"y":0.18,"e":1.02},{"x":1.81,"y":0.18,"e":1.15},{"x":1.96,"y":0.18,"e":1.28},{"x":2.12,"y":0.18,"e":1.05},{"x":2.28,"y":0.18,"e":0.9},{"x":2.43,"y":0.18,"e":1.0},{"x":2.59,"y":0.18,"e":0.85},{"x":2.75,"y":0.18,"e":1.05},{"x":2.91,"y":0.18,"e":1.35},{"x":3.06,"y":0.18,"e":2.4},
{"x":-3.06,"y":0.14,"e":1.1},{"x":-2.91,"y":0.14,"e":0.58},{"x":-2.75,"y":0.14,"e":0.35},{"x":-2.59,"y":0.14,"e":0.15},{"x":-2.43,"y":0.14,"e":0.1},{"x":-2.28,"y":0.14,"e":0.15},{"x":-2.12,"y":0.14,"e":0.02},{"x":-1.96,"y":0.14,"e":0.35},{"x":-1.81,"y":0.14,"e":0.45},{"x":-1.65,"y":0.14,"e":0.45},{"x":-1.49,"y":0.14,"e":0.38},{"x":-1.34,"y":0.14,"e":0.2},{"x":-1.18,"y":0.14,"e":0.42},{"x":-1.02,"y":0.14,"e":0.45},{"x":-0.86,"y":0.14,"e":0.3},{"x":-0.71,"y":0.14,"e":0.42},{"x":-0.55,"y":0.14,"e":0.6},{"x":-0.39,"y":0.14,"e":0.78},{"x":-0.24,"y":0.14,"e":1.0},{"x":-0.08,"y":0.14,"e":0.8},{"x":0.08,"y":0.14,"e":1.05},{"x":0.24,"y":0.14,"e":1.05},{"x":0.39,"y":0.14,"e":0.78},{"x":0.55,"y":0.14,"e":0.5},{"x":0.71,"y":0.14,"e":0.2},{"x":0.86,"y":0.14,"e":0.02},{"x":1.02,"y":0.14,"e":0.3},{"x":1.18,"y":0.14,"e":0.55},{"x":1.34,"y":0.14,"e":0.78},{"x":1.49,"y":0.14,"e":0.9},{"x":1.65,"y":0.14,"e":1.2},{"x":1.81,"y":0.14,"e":1.35},{"x":1.96,"y":0.14,"e":1.3},{"x":2.12,"y":0.14,"e":0.95},{"x":2.28,"y":0.14,"e":0.85},{"x":2.43,"y":0.14,"e":0.7},{"x":2.59,"y":0.14,"e":0.3},{"x":2.75,"y":0.14,"e":0.9},{"x":2.91,"y":0.14,"e":1.35},{"x":3.06,"y":0.14,"e":3.1},
{"x":-3.06,"y":0.1,"e":0.6},{"x":-2.91,"y":0.1,"e":0.25},{"x":-2.75,"y":0.1,"e":0.1},{"x":-2.59,"y":0.1,"e":0.02},{"x":-2.43,"y":0.1,"e":0.1},{"x":-2.28,"y":0.1,"e":0.12},{"x":-2.12,"y":0.1,"e":0.03},{"x":-1.96,"y":0.1,"e":0.3},{"x":-1.81,"y":0.1,"e":0.42},{"x":-1.65,"y":0.1,"e":0.42},{"x":-1.49,"y":0.1,"e":0.32},{"x":-1.34,"y":0.1,"e":0.22},{"x":-1.18,"y":0.1,"e":0.38},{"x":-1.02,"y":0.1,"e":0.5},{"x":-0.86,"y":0.1,"e":0.38},{"x":-0.71,"y":0.1,"e":0.42},{"x":-0.55,"y":0.1,"e":0.58},{"x":-0.39,"y":0.1,"e":0.78},{"x":-0.24,"y":0.1,"e":1.08},{"x":-0.08,"y":0.1,"e":0.72},{"x":0.08,"y":0.1,"e":0.8},{"x":0.24,"y":0.1,"e":0.72},{"x":0.39,"y":0.1,"e":0.55},{"x":0.55,"y":0.1,"e":0.35},{"x":0.71,"y":0.1,"e":0.12},{"x":0.86,"y":0.1,"e":0.02},{"x":1.02,"y":0.1,"e":0.28},{"x":1.18,"y":0.1,"e":0.78},{"x":1.34,"y":0.1,"e":1.2},{"x":1.49,"y":0.1,"e":1.4},{"x":1.65,"y":0.1,"e":1.5},{"x":1.81,"y":0.1,"e":1.45},{"x":1.96,"y":0.1,"e":1.05},{"x":2.12,"y":0.1,"e":0.8},{"x":2.28,"y":0.1,"e":0.62},{"x":2.43,"y":0.1,"e":0.45},{"x":2.59,"y":0.1,"e":0.08},{"x":2.75,"y":0.1,"e":0.28},{"x":2.91,"y":0.1,"e":1.25},{"x":3.06,"y":0.1,"e":2.6},
{"x":-3.06,"y":0.06,"e":0.15},{"x":-2.91,"y":0.06,"e":0.02},{"x":-2.75,"y":0.06,"e":0.3},{"x":-2.59,"y":0.06,"e":0.28},{"x":-2.43,"y":0.06,"e":0.02},{"x":-2.28,"y":0.06,"e":0.2},{"x":-2.12,"y":0.06,"e":0.1},{"x":-1.96,"y":0.06,"e":0.12},{"x":-1.81,"y":0.06,"e":0.08},{"x":-1.65,"y":0.06,"e":0.18},{"x":-1.49,"y":0.06,"e":0.3},{"x":-1.34,"y":0.06,"e":0.42},{"x":-1.18,"y":0.06,"e":0.22},{"x":-1.02,"y":0.06,"e":0.2},{"x":-0.86,"y":0.06,"e":0.38},{"x":-0.71,"y":0.06,"e":0.48},{"x":-0.55,"y":0.06,"e":0.6},{"x":-0.39,"y":0.06,"e":0.8},{"x":-0.24,"y":0.06,"e":1.25},{"x":-0.08,"y":0.06,"e":0.65},{"x":0.08,"y":0.06,"e":0.6},{"x":0.24,"y":0.06,"e":0.35},{"x":0.39,"y":0.06,"e":0.5},{"x":0.55,"y":0.06,"e":0.72},{"x":0.71,"y":0.06,"e":0.55},{"x":0.86,"y":0.06,"e":0.1},{"x":1.02,"y":0.06,"e":0.1},{"x":1.18,"y":0.06,"e":1.05},{"x":1.34,"y":0.06,"e":1.75},{"x":1.49,"y":0.06,"e":1.85},{"x":1.65,"y":0.06,"e":1.85},{"x":1.81,"y":0.06,"e":1.1},{"x":1.96,"y":0.06,"e":0.75},{"x":2.12,"y":0.06,"e":0.55},{"x":2.28,"y":0.06,"e":0.3},{"x":2.43,"y":0.06,"e":0.05},{"x":2.59,"y":0.06,"e":0.22},{"x":2.75,"y":0.06,"e":0.45},{"x":2.91,"y":0.06,"e":0.35},{"x":3.06,"y":0.06,"e":0.8},
{"x":-3.06,"y":0.02,"e":0.22},{"x":-2.91,"y":0.02,"e":0.3},{"x":-2.75,"y":0.02,"e":0.95},{"x":-2.59,"y":0.02,"e":0.35},{"x":-2.43,"y":0.02,"e":0.12},{"x":-2.28,"y":0.02,"e":0.9},{"x":-2.12,"y":0.02,"e":0.22},{"x":-1.96,"y":0.02,"e":0.1},{"x":-1.81,"y":0.02,"e":0.12},{"x":-1.65,"y":0.02,"e":0.05},{"x":-1.49,"y":0.02,"e":0.2},{"x":-1.34,"y":0.02,"e":0.55},{"x":-1.18,"y":0.02,"e":0.1},{"x":-1.02,"y":0.02,"e":0.05},{"x":-0.86,"y":0.02,"e":0.3},{"x":-0.71,"y":0.02,"e":0.5},{"x":-0.55,"y":0.02,"e":0.62},{"x":-0.39,"y":0.02,"e":0.85},{"x":-0.24,"y":0.02,"e":1.45},{"x":-0.08,"y":0.02,"e":0.65},{"x":0.08,"y":0.02,"e":0.42},{"x":0.24,"y":0.02,"e":0.32},{"x":0.39,"y":0.02,"e":1.3},{"x":0.55,"y":0.02,"e":1.9},{"x":0.71,"y":0.02,"e":1.55},{"x":0.86,"y":0.02,"e":1.05},{"x":1.02,"y":0.02,"e":0.08},{"x":1.18,"y":0.02,"e":1.05},{"x":1.34,"y":0.02,"e":2.6},{"x":1.49,"y":0.02,"e":3.1},{"x":1.65,"y":0.02,"e":1.55},{"x":1.81,"y":0.02,"e":1.05},{"x":1.96,"y":0.02,"e":0.7},{"x":2.12,"y":0.02,"e":0.68},{"x":2.28,"y":0.02,"e":0.2},{"x":2.43,"y":0.02,"e":0.8},{"x":2.59,"y":0.02,"e":1.45},{"x":2.75,"y":0.02,"e":1.65},{"x":2.91,"y":0.02,"e":1.2},{"x":3.06,"y":0.02,"e":0.45}
],"bar":[{"e":0.02},{"e":0.06},{"e":0.1},{"e":0.14},{"e":0.18},{"e":0.22},{"e":0.26},{"e":0.3},{"e":0.34},{"e":0.38},{"e":0.42},{"e":0.46},{"e":0.5},{"e":0.54},{"e":0.58},{"e":0.62},{"e":0.66},{"e":0.7},{"e":0.74},{"e":0.78},{"e":0.82},{"e":0.86},{"e":0.9},{"e":0.94},{"e":0.98},{"e":1.02},{"e":1.06},{"e":1.1},{"e":1.14},{"e":1.18},{"e":1.22},{"e":1.26},{"e":1.3},{"e":1.34},{"e":1.38},{"e":1.42},{"e":1.46},{"e":1.5},{"e":1.54},{"e":1.58},{"e":1.62},{"e":1.66},{"e":1.7},{"e":1.74},{"e":1.78},{"e":1.82},{"e":1.86},{"e":1.9},{"e":1.94},{"e":1.98},{"e":2.02},{"e":2.06},{"e":2.1},{"e":2.14},{"e":2.18},{"e":2.22},{"e":2.26},{"e":2.3},{"e":2.34},{"e":2.38},{"e":2.42},{"e":2.46},{"e":2.5},{"e":2.54},{"e":2.58},{"e":2.62},{"e":2.66},{"e":2.7},{"e":2.74},{"e":2.78},{"e":2.82},{"e":2.86},{"e":2.9},{"e":2.94},{"e":2.98},{"e":3.02},{"e":3.06},{"e":3.1},{"e":3.14},{"e":3.18},{"e":3.22},{"e":3.26},{"e":3.3},{"e":3.34},{"e":3.38},{"e":3.42},{"e":3.46},{"e":3.5},{"e":3.54},{"e":3.58},{"e":3.62},{"e":3.66},{"e":3.7},{"e":3.74}]},
"hconcat":[
{"width":2046,"height":1616,"title":{"text":"AutoAdamW RoPINN Pointwise error","fontSize":83,"fontWeight":"normal","font":"DejaVu Sans","color":"black","offset":-31,"anchor":"middle"},
"layer":[
{"data":{"name":"grid"},"mark":{"type":"rect","width":53,"height":67,"clip":true},"encoding":{
"x":{"field":"x","type":"quantitative","scale":{"domain":[-3.14159,3.14159],"nice":false,"zero":false},"axis":{"values":[-3,-2,-1,0,1,2,3],"format":"d","labelFontSize":83,"labelPadding":10,"title":"x","titleFontSize":75,"titleFontStyle":"italic","titleFontWeight":"normal","titlePadding":16}},
"y":{"field":"y","type":"quantitative","scale":{"domain":[0,1],"nice":false,"zero":false},"axis":{"values":[0,0.2,0.4,0.6,0.8,1],"format":".1f","labelFontSize":83,"labelPadding":16,"title":"y","titleFontSize":75,"titleFontStyle":"italic","titleFontWeight":"normal","titlePadding":14}},
"color":{"field":"e","type":"quantitative","legend":null,"scale":{"domain":[0,0.413,0.47,1.277,1.315,1.409,2.405,2.442,2.48,3.344,3.419,3.757],"range":["#000080","#0000ff","#0000ff","#00dbff","#00e6f7","#14ffe2","#eeff08","#f7f500","#ffec00","#ff1300","#e80000","#800000"]}}}},
{"data":{"name":"grid"},"mark":{"type":"rect","width":84,"height":106,"clip":true,"opacity":0.35},"encoding":{
"x":{"field":"x","type":"quantitative"},
"y":{"field":"y","type":"quantitative"},
"color":{"field":"e","type":"quantitative","legend":null}}},
{"data":{"name":"grid"},"mark":{"type":"rect","width":84,"height":106,"clip":true,"opacity":0.3},"encoding":{
"x":{"field":"x","type":"quantitative"},
"y":{"field":"y","type":"quantitative"},
"color":{"field":"e","type":"quantitative","legend":null},
"order":[{"field":"y","sort":"ascending"},{"field":"x","sort":"descending"}]}},
{"data":{"values":[{}]},"mark":{"type":"rect","fill":null,"stroke":"black","strokeWidth":3.3},"encoding":{"x":{"datum":-3.14159},"x2":{"datum":3.14159},"y":{"datum":0},"y2":{"datum":1}}}
]},
{"width":82,"height":1616,"title":{"text":"×10⁻³","fontSize":78,"fontWeight":"normal","font":"DejaVu Sans","color":"black","offset":-1,"anchor":"end","dx":-152},
"layer":[
{"data":{"name":"bar"},"mark":{"type":"rect","height":18,"clip":true},"encoding":{
"x":{"value":0},"x2":{"value":82},
"y":{"field":"e","type":"quantitative","scale":{"domain":[0,3.757],"nice":false,"zero":false},"axis":{"orient":"right","values":[0,0.4,0.8,1.2,1.6,2,2.4,2.8,3.2,3.6],"format":".1f","labelFontSize":73,"labelPadding":17,"title":null}},
"color":{"field":"e","type":"quantitative","legend":null,"scale":{"domain":[0,0.413,0.47,1.277,1.315,1.409,2.405,2.442,2.48,3.344,3.419,3.757],"range":["#000080","#0000ff","#0000ff","#00dbff","#00e6f7","#14ffe2","#eeff08","#f7f500","#ffec00","#ff1300","#e80000","#800000"]}}}},
{"data":{"values":[{}]},"mark":{"type":"rect","fill":null,"stroke":"black","strokeWidth":3.3},"encoding":{"x":{"value":0},"x2":{"value":82},"y":{"datum":0},"y2":{"datum":3.757}}}
]}
],"resolve":{"scale":{"color":"independent"}}}
